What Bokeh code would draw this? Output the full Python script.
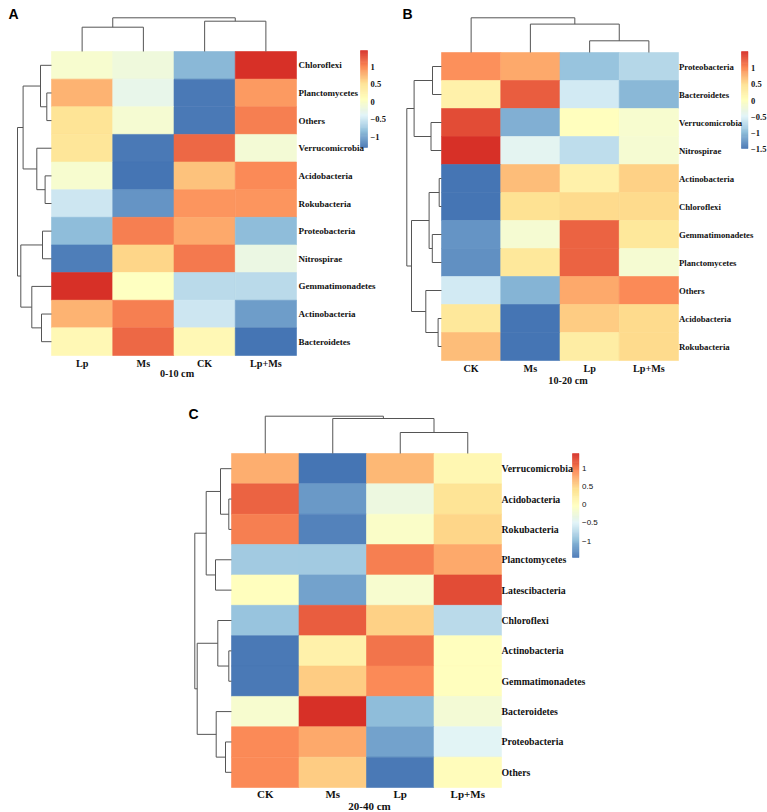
import numpy as np
from bokeh.plotting import figure
from bokeh.models import Range1d, LinearColorMapper, ColumnDataSource, Spacer
from bokeh.layouts import column, row
from bokeh.transform import transform
from bokeh.core.properties import value
from bokeh.embed import file_html
from bokeh.resources import INLINE

# ---------------- data ----------------
a_cols = ["Lp", "Ms", "CK", "Lp+Ms"]
a_rows = ["Chloroflexi", "Planctomycetes", "Others", "Verrucomicrobia", "Acidobacteria",
          "Rokubacteria", "Proteobacteria", "Nitrospirae", "Gemmatimonadetes",
          "Actinobacteria", "Bacteroidetes"]
a_values = [
    [-0.05, -0.14, -0.86, 1.47],
    [0.80, -0.25, -1.25, 0.92],
    [0.50, -0.08, -1.25, 1.08],
    [0.47, -1.25, 1.19, -0.10],
    [-0.05, -1.30, 0.72, 1.00],
    [-0.47, -1.08, 0.95, 0.95],
    [-0.83, 1.08, 0.86, -0.83],
    [-1.24, 0.60, 1.10, -0.20],
    [1.45, 0.08, -0.60, -0.60],
    [0.80, 1.08, -0.47, -1.05],
    [0.17, 1.17, 0.17, -1.28],
]
a_col_tree = [[0, 1, 24.3], [2, 3, 30.3], [4, 5, 33.7]]
a_row_tree = [[1, 2, 4.7], [0, 11, 11.0], [4, 5, 6.4], [3, 13, 14.7], [12, 14, 28.4],
              [6, 7, 9.0], [9, 10, 10.0], [8, 17, 19.7], [16, 18, 30.7], [15, 19, 34.0]]
a_ticks = [1, 0.5, 0, -0.5, -1]
a_title = "0-10 cm"

b_cols = ["CK", "Ms", "Lp", "Lp+Ms"]
b_rows = ["Proteobacteria", "Bacteroidetes", "Verrucomicrobia", "Nitrospirae",
          "Actinobacteria", "Chloroflexi", "Gemmatimonadetes", "Planctomycetes",
          "Others", "Acidobacteria", "Rokubacteria"]
b_values = [
    [1.00, 0.83, -0.94, -0.76],
    [0.26, 1.28, -0.58, -1.00],
    [1.34, -1.06, 0.02, -0.10],
    [1.52, -0.43, -0.67, -0.16],
    [-1.48, 0.71, 0.26, 0.59],
    [-1.46, 0.50, 0.56, 0.56],
    [-1.24, -0.16, 1.22, 0.41],
    [-1.27, 0.41, 1.25, -0.16],
    [-0.58, -1.03, 0.83, 1.03],
    [0.41, -1.48, 0.62, 0.56],
    [0.74, -1.47, 0.30, 0.56],
]
b_col_tree = [[2, 3, 11.7], [1, 4, 28.4], [0, 5, 34.7]]
b_row_tree = [[0, 1, 9.0], [2, 3, 10.5], [11, 12, 27.4], [4, 5, 2.3], [6, 7, 9.2],
              [14, 15, 12.4], [9, 10, 3.4], [8, 17, 15.7], [16, 18, 30.0], [13, 19, 34.7]]
b_ticks = [1, 0.5, 0, -0.5, -1, -1.5]
b_title = "10-20 cm"

c_cols = ["CK", "Ms", "Lp", "Lp+Ms"]
c_rows = ["Verrucomicrobia", "Acidobacteria", "Rokubacteria", "Planctomycetes",
          "Latescibacteria", "Chloroflexi", "Actinobacteria", "Gemmatimonadetes",
          "Bacteroidetes", "Proteobacteria", "Others"]
c_values = [
    [0.74, -1.45, 0.66, 0.09],
    [1.14, -1.22, -0.31, 0.40],
    [1.00, -1.34, -0.11, 0.49],
    [-0.88, -0.88, 1.00, 0.77],
    [0.00, -1.14, -0.14, 1.23],
    [-0.91, 1.17, 0.52, -0.71],
    [-1.42, 0.20, 1.03, 0.00],
    [-1.42, 0.55, 0.92, 0.00],
    [-0.14, 1.40, -0.97, -0.22],
    [0.92, 0.77, -1.14, -0.48],
    [0.92, 0.57, -1.42, 0.03],
]
c_col_tree = [[2, 3, 21.0], [1, 4, 35.0], [0, 5, 37.3]]
c_row_tree = [[1, 2, 2.7], [0, 11, 11.0], [3, 4, 16.0], [12, 13, 25.3], [6, 7, 2.7],
              [5, 15, 13.7], [9, 10, 6.0], [8, 17, 15.3], [16, 18, 34.3], [14, 19, 36.7]]
c_ticks = [1, 0.5, 0, -0.5, -1]
c_title = "20-40 cm"

# ---------------- styling ----------------
BASE = ["#4575B4", "#91BFDB", "#E0F3F8", "#FFFFBF", "#FEE090", "#FC8D59", "#D73027"]


def ramp(colors, n):
    rgb = np.array([[int(c[i:i + 2], 16) for i in (1, 3, 5)] for c in colors], float)
    xs = np.linspace(0, 1, len(colors))
    out = []
    for t in np.linspace(0, 1, n):
        r = [int(round(np.interp(t, xs, rgb[:, k]))) for k in range(3)]
        out.append("#%02x%02x%02x" % tuple(r))
    return out


PALETTE = ramp(BASE, 100)
SERIF = "Liberation Serif"
SANS = "Liberation Sans"
TREE_COLOR = "#555555"


def tree_segments(merges, n):
    pos = [i + 0.5 for i in range(n)]
    ht = [0.0] * n
    segs = []
    for a, b, h in merges:
        segs.append((pos[a], ht[a], pos[a], h))
        segs.append((pos[b], ht[b], pos[b], h))
        segs.append((pos[a], h, pos[b], h))
        pos.append((pos[a] + pos[b]) / 2.0)
        ht.append(h)
    return segs


def fmt(t):
    return ("%g" % t).replace("-", "\u2212")


def panel(letter, rows, cols, vals, row_tree, col_tree, ticks, title, g):
    nr, nc = len(rows), len(cols)
    W, H = g["W"], g["H"]
    cw = g["hm_w"] / nc
    rh = g["hm_h"] / nr
    L, T = g["hm_left"], g["hm_top"]
    x0, x1 = -L / cw, (W - L) / cw
    y1, y0 = nr + T / rh, nr - (H - T) / rh
    v = np.array(vals, float)
    low, high = float(v.min()), float(v.max())
    per = (high - low) / (g["cb_bot"] - g["cb_top"])
    cb_end = high + g["cb_top"] * per
    cb_start = high - (H - g["cb_top"]) * per

    p = figure(width=W, height=H, x_range=Range1d(x0, x1), y_range=Range1d(y0, y1),
               output_backend="svg", toolbar_location=None, min_border=0,
               x_axis_location=None, y_axis_location=None)
    p.outline_line_color = None
    p.grid.visible = False
    p.extra_y_ranges = {"cb": Range1d(cb_start, cb_end)}

    mapper = LinearColorMapper(palette=PALETTE, low=low, high=high)
    xs, ys, vv = [], [], []
    for i in range(nr):
        for j in range(nc):
            xs.append(j + 0.5)
            ys.append(nr - i - 0.5)
            vv.append(v[i, j])
    src = ColumnDataSource(dict(x=xs, y=ys, v=vv))
    p.rect("x", "y", width=1, height=1, source=src,
           fill_color=transform("v", mapper), line_color=transform("v", mapper),
           line_width=0.6)

    # column dendrogram (top)
    segs = tree_segments(col_tree, nc)
    kc = g["col_dendro"] / max(m[2] for m in col_tree) / rh
    p.segment(x0=[s[0] for s in segs], y0=[nr + s[1] * kc for s in segs],
              x1=[s[2] for s in segs], y1=[nr + s[3] * kc for s in segs],
              line_color=TREE_COLOR, line_width=1)
    # row dendrogram (left)
    segs = tree_segments(row_tree, nr)
    kr = g["row_dendro"] / max(m[2] for m in row_tree) / cw
    p.segment(x0=[-s[1] * kr for s in segs], y0=[nr - s[0] for s in segs],
              x1=[-s[3] * kr for s in segs], y1=[nr - s[2] for s in segs],
              line_color=TREE_COLOR, line_width=1)

    # colour bar
    nseg = len(PALETTE)
    edges = np.linspace(low, high, nseg + 1)
    cbl = (g["cb_x"] - L) / cw
    cbr = (g["cb_x"] + g["cb_w"] - L) / cw
    p.quad(left=[cbl] * nseg, right=[cbr] * nseg, bottom=list(edges[:-1]), top=list(edges[1:]),
           fill_color=PALETTE, line_color=PALETTE, line_width=0.5, y_range_name="cb")
    p.text(x=[(g["cb_x"] + g["cb_w"] + 3 - L) / cw] * len(ticks), y=ticks,
           text=[fmt(t) for t in ticks], y_range_name="cb",
           text_font=value(g["cb_font"]), text_font_style=g["cb_style"],
           text_font_size=g["cb_fs"], text_baseline="middle", text_align="left",
           text_color="#111111")

    # row labels
    p.text(x=[nc + g["lab_gap"] / cw] * nr, y=[nr - i - 0.5 for i in range(nr)], text=rows,
           text_font=value(SERIF), text_font_style="bold", text_font_size=g["row_fs"],
           text_baseline="middle", text_align="left", text_color="#111111")
    # column labels
    p.text(x=[j + 0.5 for j in range(nc)], y=[-g["col_lab_dy"] / rh] * nc, text=cols,
           text_font=value(SERIF), text_font_style="bold", text_font_size=g["col_fs"],
           text_baseline="middle", text_align="center", text_color="#111111")
    # x title
    p.text(x=[nc / 2 + g["title_dx"] / cw], y=[-g["title_dy"] / rh], text=[title],
           text_font=value(SERIF), text_font_style="bold", text_font_size=g["col_fs"],
           text_baseline="middle", text_align="center", text_color="#111111")

    # panel letter
    p.text(x=[(g["let_x"] - L) / cw], y=[nr + (T - g["let_y"]) / rh], text=[letter],
           text_font=value(SANS), text_font_style="bold", text_font_size="14px",
           text_baseline="top", text_align="left", text_color="#000000")
    return p


gA = dict(W=386, H=388, hm_left=51, hm_top=51, hm_w=245, hm_h=304, col_dendro=33.7,
          row_dendro=34.0, lab_gap=2, col_lab_dy=8, title_dy=18, title_dx=3,
          cb_x=360, cb_w=7, cb_top=50, cb_bot=147, let_x=8, let_y=5,
          row_fs="9px", col_fs="10.2px", cb_fs="8.5px", cb_font=SERIF, cb_style="bold")
gB = dict(W=381, H=388, hm_left=55, hm_top=52, hm_w=237, hm_h=308, col_dendro=34.7,
          row_dendro=34.7, lab_gap=0.5, col_lab_dy=8, title_dy=20, title_dx=8,
          cb_x=355, cb_w=6.5, cb_top=51, cb_bot=148, let_x=16, let_y=5,
          row_fs="8.7px", col_fs="10.2px", cb_fs="8.5px", cb_font=SERIF, cb_style="bold")
gC = dict(W=420, H=423, hm_left=53, hm_top=65, hm_w=270, hm_h=334, col_dendro=37.3,
          row_dendro=36.7, lab_gap=0, col_lab_dy=6, title_dy=18, title_dx=3,
          cb_x=394, cb_w=6.5, cb_top=65, cb_bot=169, let_x=10, let_y=17,
          row_fs="9.8px", col_fs="11px", cb_fs="8px", cb_font=SANS, cb_style="normal")

pA = panel("A", a_rows, a_cols, a_values, a_row_tree, a_col_tree, a_ticks, a_title, gA)
pB = panel("B", b_rows, b_cols, b_values, b_row_tree, b_col_tree, b_ticks, b_title, gB)
pC = panel("C", c_rows, c_cols, c_values, c_row_tree, c_col_tree, c_ticks, c_title, gC)

layout = column(row(pA, pB, spacing=0), row(Spacer(width=178, height=gC["H"]), pC, spacing=0),
                spacing=0)

open("out.html", "w").write(file_html(layout, INLINE))
